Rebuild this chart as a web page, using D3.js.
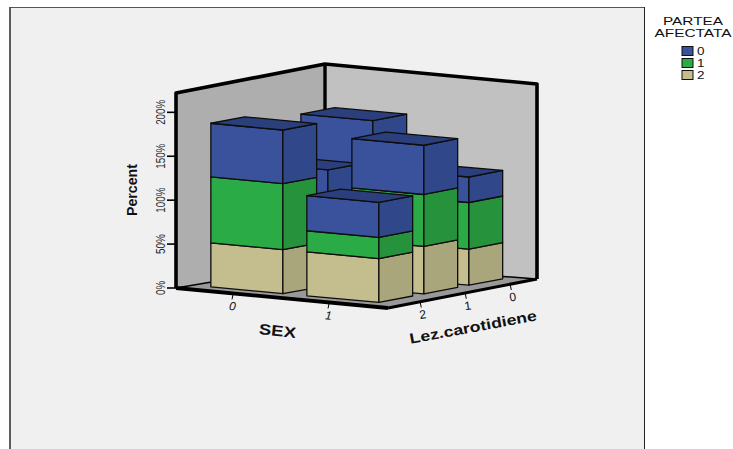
<!DOCTYPE html>
<html>
<head>
<meta charset="utf-8">
<script src="https://cdn.jsdelivr.net/npm/d3@7/dist/d3.min.js"></script>
<style>
  html, body { margin: 0; padding: 0; background: #fff; }
  svg { display: block; }
  text { font-family: "Liberation Sans", Arial, sans-serif; fill: #111; }
</style>
</head>
<body>
<svg id="chart" width="733" height="449"></svg>
<script>
// Categories along the two floor axes and the stacking order (bottom to top)
const sexCategories = ["0", "1"];
const lezCategories = ["2", "1", "0"];
const parteaStack = ["2", "1", "0"];
const legendOrder = ["0", "1", "2"];
const percentTicks = [0, 50, 100, 150, 200];

// Stacked percentages per SEX, one row per Lez.carotidiene (2, 1, 0),
// each row listing PARTEA AFECTATA 2, 1, 0
const sex0Values = [[50, 75, 61], [40, 45, 46], [50, 65, 62]];
const sex1Values = [[50, 24, 40], [54, 59, 56], [41, 53, 29]];

const frontColors = { "0": "#39529b", "1": "#2aab45", "2": "#c4be8e" };
const sideColors = { "0": "#30488a", "1": "#26923b", "2": "#aaa67c" };
const topColor = "#2c3f7d";

const svg = d3.select("#chart");

// Oblique projection with slight convergence towards the back corner
const origin = [176, 288];
const vecX = [212, 20];
const vecZ = [149, -25];
const heightScale = d3.scaleLinear().domain([0, 222]).range([0, 195]);
const sexBand = d3.scaleBand().domain(sexCategories).range([0, 1])
  .paddingInner(0.25).paddingOuter(0.229).align(0.42);
const lezBand = d3.scaleBand().domain(lezCategories).range([0, 1])
  .paddingInner(0.25).paddingOuter(0.28).align(0.65);

function project(x, z, v) {
  const h = heightScale(v) * (1 + 0.0205 * z * (1 - x));
  return [
    origin[0] + x * vecX[0] + z * vecZ[0],
    origin[1] + x * vecX[1] + z * vecZ[1] - 4 * x * z - h
  ];
}
const line = d3.line();
const closed = pts => line(pts) + "Z";

// Panel behind the plot
svg.append("rect").attr("x", 10).attr("y", 8).attr("width", 634).attr("height", 441).attr("fill", "#f0f0f0");
svg.append("rect").attr("x", 9).attr("y", 8).attr("width", 2).attr("height", 441).attr("fill", "#5e5e5e");
svg.append("rect").attr("x", 9).attr("y", 7).attr("width", 636).attr("height", 1).attr("fill", "#555");
svg.append("rect").attr("x", 644).attr("y", 7).attr("width", 1).attr("height", 442).attr("fill", "#222");

// Walls and floor
const topV = heightScale.domain()[1];
svg.append("path").attr("d", closed([project(0,0,0), project(0,1,0), project(0,1,topV), project(0,0,topV)])).attr("fill", "#aeaeae");
svg.append("path").attr("d", closed([project(0,1,0), project(1,1,0), project(1,1,topV), project(0,1,topV)])).attr("fill", "#c1c1c1");
svg.append("path").attr("d", closed([project(0,0,0), project(1,0,0), project(1,1,0), project(0,1,0)])).attr("fill", "#999");

const thick = (pts, w) => svg.append("path").attr("d", line(pts)).attr("fill", "none")
  .attr("stroke", "#000").attr("stroke-width", w).attr("stroke-linejoin", "round");
thick([project(0,1,0), project(0,0,0)], 1.5);
thick([project(0,1,0), project(1,1,0)], 1.5);
thick([project(0,0,0), project(0,0,topV), project(0,1,topV), project(1,1,topV), project(1,1,0)], 3.6);
thick([project(0,1,0), project(0,1,topV)], 3.4);
thick([project(0,0,0), project(1,0,0)], 3.8);
thick([project(1,0,0), project(1,1,0)], 3);

// Percent axis
const yTicks = svg.append("g");
percentTicks.forEach(t => {
  const p = project(0, 0, t);
  yTicks.append("line").attr("x1", p[0] - 9).attr("x2", p[0]).attr("y1", p[1]).attr("y2", p[1])
    .attr("stroke", "#000").attr("stroke-width", 1.6);
  yTicks.append("text").attr("transform", `translate(${p[0] - 11.5},${p[1]}) rotate(-90)`)
    .attr("text-anchor", "middle").attr("font-size", 12).style("fill", "#2a2a2a")
    .attr("textLength", t === 0 ? 14 : t < 100 ? 20 : 25).attr("lengthAdjust", "spacingAndGlyphs")
    .text(t + "%");
});
svg.append("text").attr("transform", "translate(137,190) rotate(-90)")
  .attr("text-anchor", "middle").attr("font-size", 15).attr("font-weight", "bold")
  .attr("textLength", 52).attr("lengthAdjust", "spacingAndGlyphs").text("Percent");

// Floor axis ticks and labels
const sexCenter = c => sexBand(c) + sexBand.bandwidth() / 2 + 0.012;
const lezCenter = c => lezBand(c) + lezBand.bandwidth() / 2;
sexCategories.forEach(c => {
  const p = project(sexCenter(c), 0, 0);
  svg.append("line").attr("x1", p[0]).attr("y1", p[1] + 1).attr("x2", p[0] - 1).attr("y2", p[1] + 6)
    .attr("stroke", "#000").attr("stroke-width", 1);
  svg.append("text").attr("transform", `translate(${p[0] - 1},${p[1] + 17}) rotate(5)`)
    .attr("text-anchor", "middle").attr("font-size", 12).attr("font-style", "italic").text(c);
});
lezCategories.forEach(c => {
  const p = project(1, lezCenter(c), 0);
  svg.append("line").attr("x1", p[0] - 1).attr("y1", p[1] + 1).attr("x2", p[0]).attr("y2", p[1] + 6)
    .attr("stroke", "#000").attr("stroke-width", 1);
  svg.append("text").attr("transform", `translate(${p[0] + 2},${p[1] + 17}) rotate(-8)`)
    .attr("text-anchor", "middle").attr("font-size", 12).text(c);
});
svg.append("text").attr("transform", "translate(277,336) rotate(6)")
  .attr("text-anchor", "middle").attr("font-size", 15).attr("font-weight", "bold")
  .attr("textLength", 37).attr("lengthAdjust", "spacingAndGlyphs").text("SEX");
svg.append("text").attr("transform", "translate(474,332) rotate(-10.5)")
  .attr("text-anchor", "middle").attr("font-size", 14.5).attr("font-weight", "bold")
  .attr("textLength", 129).attr("lengthAdjust", "spacingAndGlyphs").text("Lez.carotidiene");

// Bars, painted from the back row forwards
const valuesBySex = { "0": sex0Values, "1": sex1Values };
const barRows = lezCategories.map((lez, i) => ({ lez, i })).reverse();
const bars = [];
barRows.forEach(({ lez, i }) => {
  sexCategories.forEach(sex => bars.push({ sex, lez, values: valuesBySex[sex][i] }));
});
const barG = svg.append("g").attr("stroke", "#0d0d0d").attr("stroke-width", 1.3).attr("stroke-linejoin", "round");
bars.forEach(b => {
  const x0 = sexBand(b.sex), x1 = x0 + sexBand.bandwidth();
  const z0 = lezBand(b.lez), z1 = z0 + lezBand.bandwidth();
  let base = 0;
  b.values.forEach((v, k) => {
    const part = parteaStack[k], t = base + v;
    barG.append("path").attr("fill", frontColors[part])
      .attr("d", closed([project(x0,z0,base), project(x1,z0,base), project(x1,z0,t), project(x0,z0,t)]));
    barG.append("path").attr("fill", sideColors[part])
      .attr("d", closed([project(x1,z0,base), project(x1,z1,base), project(x1,z1,t), project(x1,z0,t)]));
    base = t;
  });
  barG.append("path").attr("fill", topColor)
    .attr("d", closed([project(x0,z0,base), project(x1,z0,base), project(x1,z1,base), project(x0,z1,base)]));
});

// Legend
svg.append("text").attr("x", 693).attr("y", 24.5).attr("text-anchor", "middle").attr("font-size", 10.5)
  .attr("textLength", 60).attr("lengthAdjust", "spacingAndGlyphs").text("PARTEA");
svg.append("text").attr("x", 693).attr("y", 37).attr("text-anchor", "middle").attr("font-size", 10.5)
  .attr("textLength", 77).attr("lengthAdjust", "spacingAndGlyphs").text("AFECTATA");
const legendY = d3.scalePoint().domain(legendOrder).range([51, 75]);
legendOrder.forEach(c => {
  const y = legendY(c);
  svg.append("rect").attr("x", 682).attr("y", y - 4.5).attr("width", 11).attr("height", 9)
    .attr("fill", frontColors[c]).attr("stroke", "#111").attr("stroke-width", 1);
  svg.append("text").attr("x", 697).attr("y", y + 4).attr("font-size", 11)
    .attr("textLength", 7.5).attr("lengthAdjust", "spacingAndGlyphs").text(c);
});
</script>
</body>
</html>
